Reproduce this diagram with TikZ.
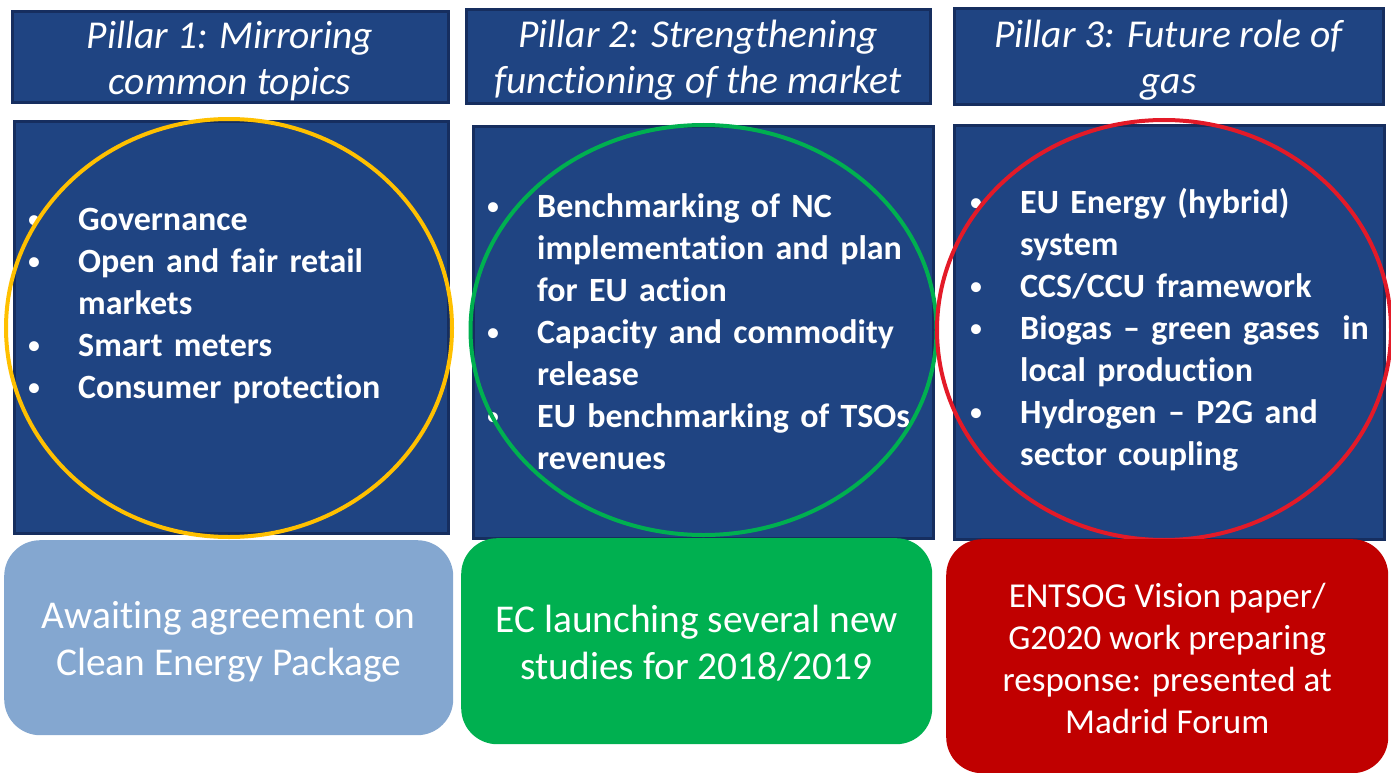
\documentclass[tikz,border=0pt]{standalone}
\usepackage{fontspec}
\setmainfont{Carlito}[Ligatures={NoCommon,NoRare}]
\definecolor{pblue}{RGB}{31,68,130}
\definecolor{pdark}{RGB}{22,46,95}
\definecolor{plight}{RGB}{132,167,208}
\definecolor{pgreen}{RGB}{0,176,80}
\definecolor{pred}{RGB}{192,0,0}
\definecolor{ryellow}{RGB}{255,192,0}
\definecolor{rgreen}{RGB}{0,176,80}
\definecolor{rred}{RGB}{227,26,40}
\newcommand\pbul[1]{\makebox[51pt][l]{\raisebox{2pt}{\mdseries\fontsize{28}{28}\selectfont\textbullet}}#1}
\newcommand\pind{\hspace*{51pt}}
\begin{document}
\begin{tikzpicture}[x=1pt,y=-1pt,
	panel/.style={draw=pdark,fill=pblue,line width=3pt,inner sep=0pt,anchor=north west},
	head/.style={panel,text=white,font=\fontsize{39.5}{46}\selectfont\itshape,align=center},
	note/.style={rounded corners=36pt,inner sep=0pt,anchor=north west,text=white,align=center},
	items/.style={anchor=base west,inner sep=0pt,text=white,font=\fontsize{34}{42}\selectfont\bfseries,align=left,text width=430pt},
	ring/.style={line width=4pt}]
	\useasboundingbox (0,0) rectangle (1391,773);
	\node[head,minimum width=436pt,minimum height=91pt,text depth=-6pt] (t1) at (10.5,10.5) {Pillar 1: Mirroring\\common topics};
	\node[head,minimum width=464pt,minimum height=94pt,text depth=-6pt] (t2) at (464.5,8.5) {Pillar 2: Strengthening\\functioning of the market};
	\node[head,minimum width=429pt,minimum height=96pt,text depth=-6pt] (t3) at (952.5,7.5) {Pillar 3: Future role of\\gas};
	\node[panel,minimum width=434pt,minimum height=411pt] (c1) at (12.5,120.5) {};
	\node[panel,minimum width=460pt,minimum height=411pt] (c2) at (471.5,125.5) {};
	\node[panel,minimum width=430pt,minimum height=413pt] (c3) at (952.5,124.5) {};
	\node[items] (p1) at (27,230) {\pbul{Governance}\\\pbul{Open and fair retail}\\\pind markets\\\pbul{Smart meters}\\\pbul{Consumer protection}};
	\node[items] (p2) at (486,217) {\pbul{Benchmarking of NC}\\\pind implementation and plan\\\pind for EU action\\\pbul{Capacity and commodity}\\\pind release\\\pbul{EU benchmarking of TSOs}\\\pind revenues};
	\node[items] (p3) at (969,213) {\pbul{EU Energy (hybrid)}\\\pind system\\\pbul{CCS/CCU framework}\\\pbul{Biogas -- green gases\ \ in}\\\pind local production\\\pbul{Hydrogen -- P2G and}\\\pind sector coupling};
	\draw[ring,draw=ryellow] (229,328) ellipse [x radius=223pt,y radius=209pt];
	\draw[ring,draw=rgreen] (703.5,330) ellipse [x radius=233pt,y radius=205pt];
	\draw[ring,draw=rred] (1164,330) ellipse [x radius=227pt,y radius=210pt];
	\node[note,fill=plight,minimum width=449pt,minimum height=195pt,font=\fontsize{39.4}{47}\selectfont] (n1) at (4,540) {\\[-12pt]Awaiting agreement on\\Clean Energy Package};
	\node[note,fill=pgreen,minimum width=471pt,minimum height=206pt,font=\fontsize{39.4}{47}\selectfont] (n2) at (461,538) {\\[-16pt]EC launching several new\\studies for 2018/2019};
	\node[note,fill=pred,minimum width=442pt,minimum height=234pt,font=\fontsize{35}{42}\selectfont] (n3) at (946,539) {\\[-14pt]ENTSOG Vision paper/\\G2020 work preparing\\response: presented at\\Madrid Forum};
\end{tikzpicture}
\end{document}
